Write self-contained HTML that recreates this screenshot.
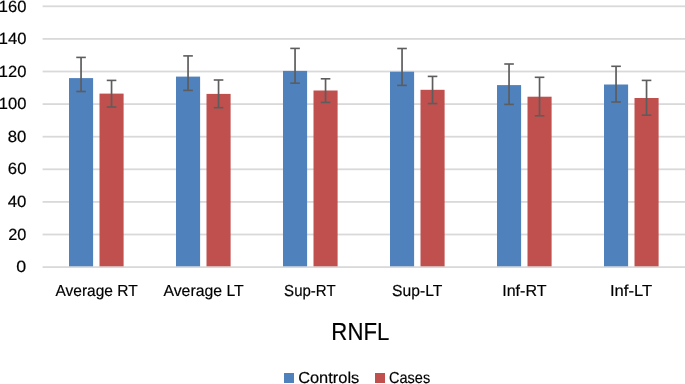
<!DOCTYPE html>
<html><head><meta charset="utf-8"><style>
html,body{margin:0;padding:0;background:#fff;width:685px;height:384px;overflow:hidden}
svg{display:block;will-change:transform}
text{font-family:"Liberation Sans",sans-serif;text-rendering:geometricPrecision;fill:#000;stroke:#000;stroke-width:0.18px}
</style></head><body>
<svg width="685" height="384" viewBox="0 0 685 384">
<rect x="42.6" y="266.20" width="642.4" height="1.8" fill="#d9d9d9"/>
<rect x="42.6" y="233.60" width="642.4" height="1.8" fill="#d9d9d9"/>
<rect x="42.6" y="201.00" width="642.4" height="1.8" fill="#d9d9d9"/>
<rect x="42.6" y="168.40" width="642.4" height="1.8" fill="#d9d9d9"/>
<rect x="42.6" y="135.80" width="642.4" height="1.8" fill="#d9d9d9"/>
<rect x="42.6" y="103.20" width="642.4" height="1.8" fill="#d9d9d9"/>
<rect x="42.6" y="70.60" width="642.4" height="1.8" fill="#d9d9d9"/>
<rect x="42.6" y="38.00" width="642.4" height="1.8" fill="#d9d9d9"/>
<rect x="42.6" y="5.40" width="642.4" height="1.8" fill="#d9d9d9"/>
<rect x="69.00" y="78.10" width="24.1" height="188.20" fill="#4f81bd"/>
<rect x="99.50" y="93.60" width="24.1" height="172.70" fill="#c0504d"/>
<rect x="176.00" y="76.60" width="24.1" height="189.70" fill="#4f81bd"/>
<rect x="206.50" y="93.90" width="24.1" height="172.40" fill="#c0504d"/>
<rect x="283.00" y="70.90" width="24.1" height="195.40" fill="#4f81bd"/>
<rect x="313.50" y="90.50" width="24.1" height="175.80" fill="#c0504d"/>
<rect x="390.00" y="71.70" width="24.1" height="194.60" fill="#4f81bd"/>
<rect x="420.50" y="89.80" width="24.1" height="176.50" fill="#c0504d"/>
<rect x="497.00" y="85.10" width="24.1" height="181.20" fill="#4f81bd"/>
<rect x="527.50" y="96.70" width="24.1" height="169.60" fill="#c0504d"/>
<rect x="604.00" y="84.50" width="24.1" height="181.80" fill="#4f81bd"/>
<rect x="634.50" y="98.00" width="24.1" height="168.30" fill="#c0504d"/>
<line x1="81.05" y1="57.40" x2="81.05" y2="91.50" stroke="#5d5d5d" stroke-width="1.7"/>
<line x1="76.25" y1="57.40" x2="85.85" y2="57.40" stroke="#5d5d5d" stroke-width="1.6"/>
<line x1="76.25" y1="91.50" x2="85.85" y2="91.50" stroke="#5d5d5d" stroke-width="1.6"/>
<line x1="111.55" y1="80.40" x2="111.55" y2="107.00" stroke="#5d5d5d" stroke-width="1.7"/>
<line x1="106.75" y1="80.40" x2="116.35" y2="80.40" stroke="#5d5d5d" stroke-width="1.6"/>
<line x1="106.75" y1="107.00" x2="116.35" y2="107.00" stroke="#5d5d5d" stroke-width="1.6"/>
<line x1="188.05" y1="55.90" x2="188.05" y2="90.40" stroke="#5d5d5d" stroke-width="1.7"/>
<line x1="183.25" y1="55.90" x2="192.85" y2="55.90" stroke="#5d5d5d" stroke-width="1.6"/>
<line x1="183.25" y1="90.40" x2="192.85" y2="90.40" stroke="#5d5d5d" stroke-width="1.6"/>
<line x1="218.55" y1="80.00" x2="218.55" y2="107.70" stroke="#5d5d5d" stroke-width="1.7"/>
<line x1="213.75" y1="80.00" x2="223.35" y2="80.00" stroke="#5d5d5d" stroke-width="1.6"/>
<line x1="213.75" y1="107.70" x2="223.35" y2="107.70" stroke="#5d5d5d" stroke-width="1.6"/>
<line x1="295.05" y1="48.40" x2="295.05" y2="83.20" stroke="#5d5d5d" stroke-width="1.7"/>
<line x1="290.25" y1="48.40" x2="299.85" y2="48.40" stroke="#5d5d5d" stroke-width="1.6"/>
<line x1="290.25" y1="83.20" x2="299.85" y2="83.20" stroke="#5d5d5d" stroke-width="1.6"/>
<line x1="325.55" y1="78.80" x2="325.55" y2="102.40" stroke="#5d5d5d" stroke-width="1.7"/>
<line x1="320.75" y1="78.80" x2="330.35" y2="78.80" stroke="#5d5d5d" stroke-width="1.6"/>
<line x1="320.75" y1="102.40" x2="330.35" y2="102.40" stroke="#5d5d5d" stroke-width="1.6"/>
<line x1="402.05" y1="48.50" x2="402.05" y2="85.40" stroke="#5d5d5d" stroke-width="1.7"/>
<line x1="397.25" y1="48.50" x2="406.85" y2="48.50" stroke="#5d5d5d" stroke-width="1.6"/>
<line x1="397.25" y1="85.40" x2="406.85" y2="85.40" stroke="#5d5d5d" stroke-width="1.6"/>
<line x1="432.55" y1="76.40" x2="432.55" y2="103.60" stroke="#5d5d5d" stroke-width="1.7"/>
<line x1="427.75" y1="76.40" x2="437.35" y2="76.40" stroke="#5d5d5d" stroke-width="1.6"/>
<line x1="427.75" y1="103.60" x2="437.35" y2="103.60" stroke="#5d5d5d" stroke-width="1.6"/>
<line x1="509.05" y1="64.00" x2="509.05" y2="104.40" stroke="#5d5d5d" stroke-width="1.7"/>
<line x1="504.25" y1="64.00" x2="513.85" y2="64.00" stroke="#5d5d5d" stroke-width="1.6"/>
<line x1="504.25" y1="104.40" x2="513.85" y2="104.40" stroke="#5d5d5d" stroke-width="1.6"/>
<line x1="539.55" y1="77.30" x2="539.55" y2="115.80" stroke="#5d5d5d" stroke-width="1.7"/>
<line x1="534.75" y1="77.30" x2="544.35" y2="77.30" stroke="#5d5d5d" stroke-width="1.6"/>
<line x1="534.75" y1="115.80" x2="544.35" y2="115.80" stroke="#5d5d5d" stroke-width="1.6"/>
<line x1="616.05" y1="66.30" x2="616.05" y2="102.00" stroke="#5d5d5d" stroke-width="1.7"/>
<line x1="611.25" y1="66.30" x2="620.85" y2="66.30" stroke="#5d5d5d" stroke-width="1.6"/>
<line x1="611.25" y1="102.00" x2="620.85" y2="102.00" stroke="#5d5d5d" stroke-width="1.6"/>
<line x1="646.55" y1="80.40" x2="646.55" y2="115.20" stroke="#5d5d5d" stroke-width="1.7"/>
<line x1="641.75" y1="80.40" x2="651.35" y2="80.40" stroke="#5d5d5d" stroke-width="1.6"/>
<line x1="641.75" y1="115.20" x2="651.35" y2="115.20" stroke="#5d5d5d" stroke-width="1.6"/>
<text transform="translate(26.29 272.00) scale(1.1013 1)" text-anchor="end" style="font-size:16.2px">0</text>
<text transform="translate(26.30 240.00) scale(1.0076 1)" text-anchor="end" style="font-size:16.2px">20</text>
<text transform="translate(26.46 207.00) scale(1.0362 1)" text-anchor="end" style="font-size:16.2px">40</text>
<text transform="translate(26.47 174.00) scale(1.0346 1)" text-anchor="end" style="font-size:16.2px">60</text>
<text transform="translate(26.34 142.00) scale(1.0315 1)" text-anchor="end" style="font-size:16.2px">80</text>
<text transform="translate(26.45 109.00) scale(1.0220 1)" text-anchor="end" style="font-size:16.2px">100</text>
<text transform="translate(26.45 77.00) scale(1.0220 1)" text-anchor="end" style="font-size:16.2px">120</text>
<text transform="translate(26.45 44.00) scale(1.0220 1)" text-anchor="end" style="font-size:16.2px">140</text>
<text transform="translate(26.45 12.00) scale(1.0220 1)" text-anchor="end" style="font-size:16.2px">160</text>
<text transform="translate(55.46 296.00) scale(0.9758 1)" style="font-size:15.9px">Average RT</text>
<text transform="translate(163.46 296.00) scale(0.9949 1)" style="font-size:15.9px">Average LT</text>
<text transform="translate(284.12 296.00) scale(0.9448 1)" style="font-size:15.9px">Sup-RT</text>
<text transform="translate(392.12 296.00) scale(0.9853 1)" style="font-size:15.9px">Sup-LT</text>
<text transform="translate(502.24 296.00) scale(1.0078 1)" style="font-size:15.9px">Inf-RT</text>
<text transform="translate(609.89 296.00) scale(1.0465 1)" style="font-size:15.9px">Inf-LT</text>
<text transform="translate(331.37 340.00) scale(0.9012 1)" style="font-size:24.6px">RNFL</text>
<rect x="284" y="373" width="10" height="10" fill="#4f81bd"/>
<text transform="translate(298.14 383.00) scale(1.0328 1)" style="font-size:15.9px">Controls</text>
<rect x="375" y="373" width="10" height="10" fill="#c0504d"/>
<text transform="translate(389.04 383.00) scale(0.9136 1)" style="font-size:15.9px">Cases</text>
</svg>
</body></html>
